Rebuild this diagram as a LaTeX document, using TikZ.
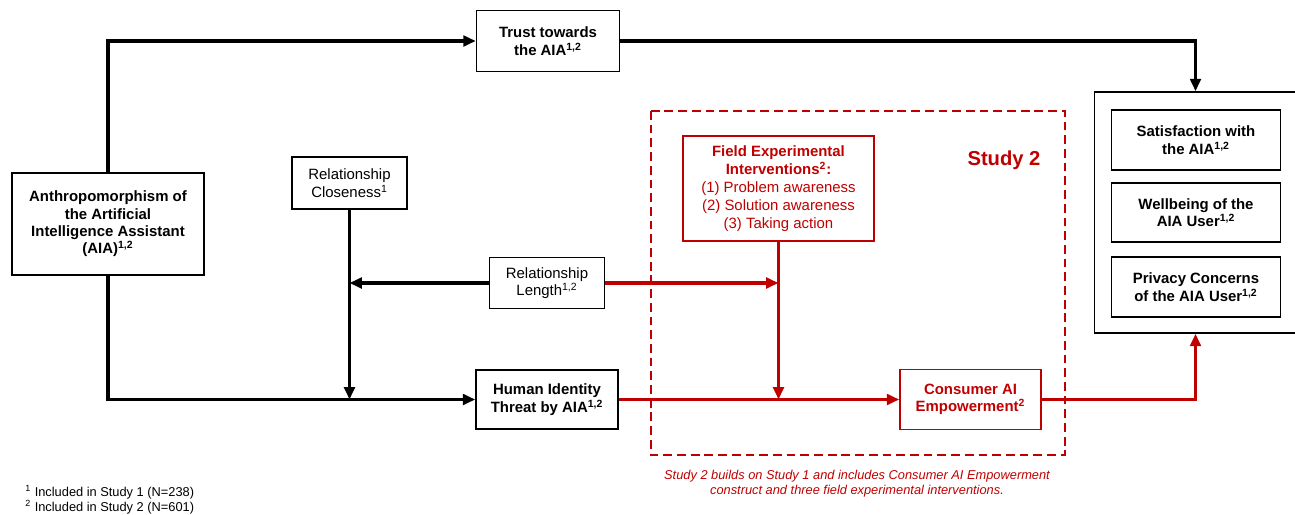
\documentclass[tikz,border=0pt]{standalone}
\usepackage{fontspec}
\setmainfont{Liberation Sans}
\usetikzlibrary{arrows.meta}
\definecolor{studyred}{RGB}{192,0,0}

\begin{document}
\begin{tikzpicture}[x=0.02cm,y=-0.02cm,
  box/.style={draw,line width=0.9pt,align=center,inner sep=0pt,
    font=\fontsize{8.5}{9.9}\selectfont},
  hd/.style={box,font=\fontsize{8.5}{9.9}\selectfont\bfseries},
  redbox/.style={box,draw=studyred,text=studyred},
  link/.style={line width=1.8pt,-{Triangle[length=7pt,width=6pt]}},
  redlink/.style={link,draw=studyred}]
  \useasboundingbox (0,0) rectangle (1295,514);

  % constructs of study 1
  \node[hd,minimum width=3.84cm,minimum height=2.04cm] (anthro) at (108,224)
    {Anthropomorphism of\\the Artificial\\Intelligence Assistant\\(AIA)\textsuperscript{1,2}};
  \node[hd,minimum width=2.86cm,minimum height=1.22cm] (trust) at (548,41)
    {Trust towards\\the AIA\textsuperscript{1,2}};
  \node[box,minimum width=2.3cm,minimum height=1.04cm] (close) at (349.5,183)
    {Relationship\\Closeness\textsuperscript{1}};
  \node[box,minimum width=2.3cm,minimum height=1.02cm] (length) at (547,283)
    {Relationship\\Length\textsuperscript{1,2}};
  \node[hd,minimum width=2.84cm,minimum height=1.18cm] (human) at (547,399.5)
    {Human Identity\\Threat by AIA\textsuperscript{1,2}};

  % outcomes
  \node[draw,line width=0.9pt,minimum width=4.04cm,minimum height=4.82cm] (out) at (1195.5,212.5) {};
  \node[hd,minimum width=3.38cm,minimum height=1.2cm] (sat) at (1196,140)
    {Satisfaction with\\the AIA\textsuperscript{1,2}};
  \node[hd,minimum width=3.38cm,minimum height=1.18cm] (well) at (1196,212.5)
    {Wellbeing of the\\AIA User\textsuperscript{1,2}};
  \node[hd,minimum width=3.38cm,minimum height=1.2cm] (priv) at (1196,287)
    {Privacy Concerns\\of the AIA User\textsuperscript{1,2}};

  % study 2 part
  \draw[studyred,line width=1.3pt,dash pattern=on 5pt off 2.8pt] (651,111) rectangle (1065,455);
  \node[font=\fontsize{11.5}{13}\selectfont\bfseries,text=studyred] (study) at (1004,160) {Study 2};
  \node[redbox,minimum width=3.82cm,minimum height=2.1cm,font=\fontsize{8.5}{10.3}\selectfont] (field) at (778.5,188.5)
    {\textbf{Field Experimental}\\\textbf{Interventions\textsuperscript{2}:}\\(1) Problem awareness\\(2) Solution awareness\\(3) Taking action};
  \node[redbox,font=\fontsize{8.5}{9.9}\selectfont\bfseries,minimum width=2.82cm,minimum height=1.2cm] (consumer) at (970.5,399.5)
    {Consumer AI\\Empowerment\textsuperscript{2}};
  \node[align=center,text=studyred,font=\fontsize{7.3}{8.6}\selectfont\itshape] (note) at (857,483.5)
    {Study 2 builds on Study 1 and includes Consumer AI Empowerment\\construct and three field experimental interventions.};

  \node[anchor=west,align=left,inner sep=0pt,font=\fontsize{7.3}{8.6}\selectfont] (fn) at (25,499.5)
    {\textsuperscript{1} Included in Study 1 (N=238)\\\textsuperscript{2} Included in Study 2 (N=601)};

  % paths
  \draw[link] (anthro.north) |- (trust.west);
  \draw[link] (trust.east) -| (out.north);
  \draw[link] (anthro.south) |- (human.west);
  \draw[link] (close.south) -- (close.south |- human.west);
  \draw[link] (length.west) -- (close.south |- length.west);
  \draw[redlink] (length.east) -- (field.south |- length.east);
  \draw[redlink] (field.south) -- (field.south |- human.west);
  \draw[redlink] (human.east) -- (consumer.west);
  \draw[redlink] (consumer.east) -| (out.south);
\end{tikzpicture}
\end{document}
